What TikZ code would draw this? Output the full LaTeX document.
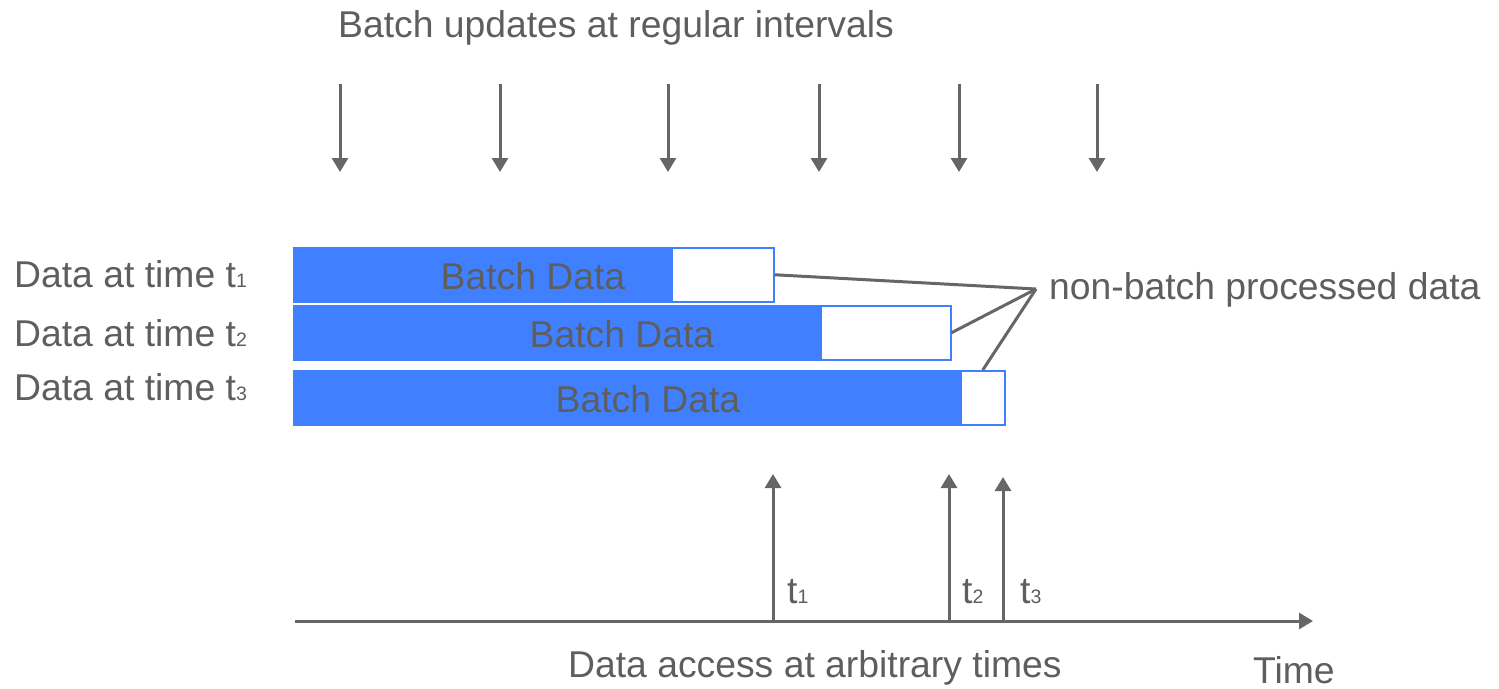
\documentclass[tikz,border=0pt]{standalone}
\usepackage{fontspec}
\setmainfont{Liberation Sans}
\usetikzlibrary{arrows.meta}
\definecolor{txt}{HTML}{5E5E5E}
\definecolor{ln}{HTML}{666666}
\definecolor{bblue}{HTML}{4080FF}
\newcommand\subd[1]{{\fontsize{19.5}{19.5}\selectfont #1}}
\begin{document}
\begin{tikzpicture}[x=1pt,y=-1pt,
  lbl/.style={font=\fontsize{37.3}{44}\selectfont, text=txt, inner sep=0pt, anchor=base west},
  clbl/.style={lbl, anchor=base},
  arr/.style={draw=ln, line width=3pt, -{Triangle[width=16pt,length=14pt]}},
  conn/.style={draw=ln, line width=3pt},
  bar/.style={fill=bblue, draw=bblue, line width=1.5pt, inner sep=0pt, anchor=north west, minimum height=54pt},
  gapbox/.style={fill=white, draw=bblue, line width=1.5pt, inner sep=0pt, anchor=north west, minimum height=54pt}]
\useasboundingbox (0,0) rectangle (1499,688);

% title
\node[lbl] (title) at (338,37) {Batch updates at regular intervals};

% batch update arrows
\foreach \x [count=\i] in {340,500,668,819,959,1097}{
  \coordinate (dtop\i) at (\x,84);
  \coordinate (dtip\i) at (\x,172);
  \draw[arr] (dtop\i) -- (dtip\i);
}

% row labels
\node[lbl] (r1) at (14,287) {Data at time t\subd{1}};
\node[lbl] (r2) at (14,346) {Data at time t\subd{2}};
\node[lbl] (r3) at (14,400) {Data at time t\subd{3}};

% bars
\node[bar, minimum width=480pt] (b1) at (293,247) {};
\node[gapbox, minimum width=102pt] (w1) at (671,247) {};
\node[clbl] (bt1) at (533,289) {Batch Data};

\node[bar, minimum width=657pt] (b2) at (293,305) {};
\node[gapbox, minimum width=130pt] (w2) at (820,305) {};
\node[clbl] (bt2) at (622,347) {Batch Data};

\node[bar, minimum width=711pt] (b3) at (293,370) {};
\node[gapbox, minimum width=44pt] (w3) at (960,370) {};
\node[clbl] (bt3) at (648,412) {Batch Data};

% non-batch label and connectors
\node[lbl] (nb) at (1049,299) {non-batch processed data};
\coordinate (conv) at (1036,289);
\draw[conn] (conv) -- (w1.east);
\draw[conn] (conv) -- (w2.east);
\draw[conn] (conv) -- (w3.north);

% time axis
\coordinate (ax0) at (295,621);
\coordinate (ax1) at (1313,621);
\draw[arr] (ax0) -- (ax1);

% access arrows
\coordinate (a1) at (773,621); \coordinate (u1) at (773,474);
\coordinate (a2) at (949,621); \coordinate (u2) at (949,474);
\coordinate (a3) at (1003,621); \coordinate (u3) at (1003,477);
\draw[arr] (a1) -- (u1);
\draw[arr] (a2) -- (u2);
\draw[arr] (a3) -- (u3);

\node[lbl] (t1) at (787,603) {t\subd{1}};
\node[lbl] (t2) at (962,603) {t\subd{2}};
\node[lbl] (t3) at (1020,603) {t\subd{3}};

\node[lbl] (acc) at (568,677) {Data access at arbitrary times};
\node[lbl] (time) at (1253,683) {Time};
\end{tikzpicture}
\end{document}
